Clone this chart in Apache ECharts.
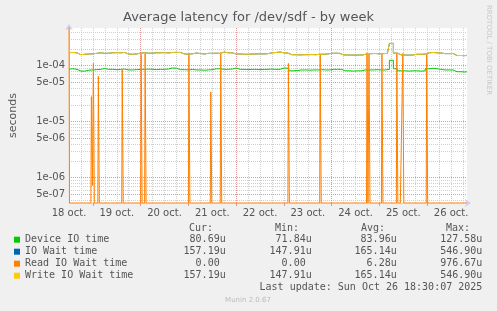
<!DOCTYPE html>
<html><head><meta charset="utf-8">
<script src="https://cdn.jsdelivr.net/npm/echarts@6/dist/echarts.min.js"></script>
<style>html,body{margin:0;padding:0;background:#f0f0f0}#c{width:497px;height:311px}</style>
</head><body><div id="c"></div>
<script>
// ---- data ----
// x = hours since 18 oct 12:00 (left edge of the plot); samples every 2 h
const STEP_H = 2;
const dayLabels = ['18 oct.', '19 oct.', '20 oct.', '21 oct.', '22 oct.', '23 oct.', '24 oct.', '25 oct.', '26 oct.'];
// Device IO time, microseconds
const deviceUs = [87,88,86,80,80,83,84,85,86,89,86,86,85,86,87,84,84,85,86,86,87,86,85,86,86,87,91,90,85,85,84,86,84,84,83,84,85,88,88,86,86,87,91,86,86,85,86,86,85,86,86,87,86,86,91,90,81,82,84,84,83,84,84,85,84,84,86,86,86,81,81,80,81,81,84,84,84,85,84,84,86,125,88,81,81,80,81,81,80,81,88,90,88,86,84,84,84,78,78,77,78];
// Write IO Wait time, microseconds
const writeUs = [171,172,170,157,160,162,163,166,170,166,167,170,171,170,172,161,160,162,168,170,167,168,170,170,171,169,172,173,172,162,161,163,168,165,162,166,166,167,166,175,170,170,162,162,160,160,161,162,163,162,164,170,172,175,170,168,157,157,156,157,157,158,157,160,160,162,166,167,166,156,155,155,154,155,156,164,164,165,163,164,166,250,168,155,155,154,156,160,160,161,170,172,170,168,164,164,165,152,152,151,153];
// IO Wait time (identical to write wait in the picture, fully hidden under it)
const ioWaitUs = [171,172,170,157,160,162,163,166,170,166,167,170,171,170,172,161,160,162,168,170,167,168,170,170,171,169,172,173,172,162,161,163,168,165,162,166,166,167,166,175,170,170,162,162,160,160,161,162,163,162,164,170,172,175,170,168,157,157,156,157,157,158,157,160,160,162,166,167,166,156,155,155,154,155,156,164,164,165,163,164,166,250,168,155,155,154,156,160,160,161,170,172,170,168,164,164,165,152,152,151,153];
// Read IO Wait time: [hour, microseconds] samples (zero elsewhere)
const readUs = [[0,976.67],[0.5,0],[11,0],[11.5,28],[12,0.72],[12.5,110],[13,0],[14.5,0],[15,65],[15.5,0],[26.5,0],[27,86],[27.5,0],[36,0],[36.5,160],[37,0],[38,0],[38.5,165],[39,0],[60,0],[60.5,166],[61,0],[71,0],[71.5,34],[72,0],[76,0],[76.5,170],[77,0],[110,0],[110.5,110],[111,0],[126,0],[126.5,155],[127,0],[149.5,0],[150,170],[150.5,0],[151,168],[151.5,0],[157,0],[157.5,160],[158,0],[164.5,0],[165,166],[165.5,0],[167.5,0],[168,166],[168.5,0],[179.5,0],[180,160],[180.5,0],[200,0]];
const seriesNames = ['Device IO time', 'IO Wait time', 'Read IO Wait time', 'Write IO Wait time'];
const seriesColors = ['#00cc00', '#0066b3', '#ff8000', '#ffcc00'];
const statHeads = ['Cur:', 'Min:', 'Avg:', 'Max:'];
const statCur = ['80.69u', '157.19u', '0.00 ', '157.19u'];
const statMin = ['71.84u', '147.91u', '0.00 ', '147.91u'];
const statAvg = ['83.96u', '165.14u', '6.28u', '165.14u'];
const statMax = ['127.58u', '546.90u', '976.67u', '546.90u'];
const yTickMantissas = [1, 5];       // labelled grid lines
const yMinorMantissas = [2, 3, 4, 6, 7, 8, 9];

// ---- layout ----
const YMIN = 3.53e-7, YMAX = 4.71e-4;
const X_MAX = 200;
const RED = 'rgba(225,140,140,0.9)';
const GRAY = '#cfcfcf';
const AXIS = '#c8d0f8';
const TXT = '#555';
const FONT = 'DejaVu Sans';
const MONO = 'DejaVu Sans Mono';

const toSec = us => Math.max(us * 1e-6, YMIN);
const isPow10 = v => Math.abs(Math.log10(v) - Math.round(Math.log10(v))) < 1e-6;
function fmtE(v) {
  const e = Math.floor(Math.log10(v) + 1e-9);
  const m = Math.round(v / Math.pow(10, e));
  const es = (e < 0 ? '-' : '+') + String(Math.abs(e)).padStart(2, '0');
  return m + 'e' + es;
}

const grid = { left: 67, top: 28, width: 400, height: 175, show: true, backgroundColor: '#fff', borderWidth: 0 };

const yAxes = [];
yTickMantissas.forEach((m, i) => {
  const s = m === 1 ? 1 : 10 / m;
  yAxes.push({
    type: 'log', logBase: 10, min: YMIN * s, max: YMAX * s, position: 'left', z: 1,
    axisLine: i === 0 ? { show: true, onZero: false, lineStyle: { color: AXIS, width: 1 }, symbol: ['none', 'arrow'], symbolSize: [6, 6], symbolOffset: [0, 4] } : { show: false },
    axisTick: { show: false },
    axisLabel: { show: true, color: TXT, fontFamily: FONT, fontSize: 10, margin: 4, showMinLabel: false, showMaxLabel: false,
      formatter: v => isPow10(v) ? fmtE(v / s) : '' },
    splitLine: { show: true, showMinLine: false, showMaxLine: false, lineStyle: { color: RED, width: 1, type: [1, 1] } },
    name: i === 0 ? 'seconds' : '', nameLocation: 'middle', nameRotate: 90, nameGap: 50,
    nameTextStyle: { color: TXT, fontFamily: FONT, fontSize: 11 }
  });
});
yMinorMantissas.forEach(m => {
  const s = 10 / m;
  yAxes.push({
    type: 'log', logBase: 10, min: YMIN * s, max: YMAX * s, position: 'left', z: 0,
    axisLine: { show: false }, axisTick: { show: false }, axisLabel: { show: false },
    splitLine: { show: true, showMinLine: false, showMaxLine: false, lineStyle: { color: GRAY, width: 1, type: [1, 1] } }
  });
});

const xAxes = [
  {
    type: 'value', min: 0, max: X_MAX, interval: 12, position: 'bottom', z: 1,
    axisLine: { show: true, onZero: false, lineStyle: { color: AXIS, width: 1 }, symbol: ['none', 'arrow'], symbolSize: [6, 6], symbolOffset: [0, 4] },
    axisTick: { show: true, length: 3, lineStyle: { color: RED } , customValues: dayLabels.map((d, i) => 12 + 24 * i).filter(v => v < X_MAX)},
    axisLabel: { color: TXT, fontFamily: FONT, fontSize: 10, margin: 5, showMinLabel: true, showMaxLabel: false, hideOverlap: false,
      formatter: v => (v % 24 === 0 && dayLabels[v / 24]) ? dayLabels[v / 24] : '' },
    splitLine: { show: true, showMinLine: true, showMaxLine: false, lineStyle: { color: ['rgba(0,0,0,0)', RED], width: 1, type: [1, 1] } }
  },
  {
    type: 'value', min: 0, max: X_MAX, interval: 6, position: 'bottom', z: 0,
    axisLine: { show: false }, axisTick: { show: false }, axisLabel: { show: false },
    splitLine: { show: true, showMinLine: false, showMaxLine: false, lineStyle: { color: GRAY, width: 1, type: [1, 1] } }
  }
];

function lineSeries(idx, data) {
  return {
    name: seriesNames[idx], type: 'line', xAxisIndex: 0, yAxisIndex: 0, data,
    step: 'middle', symbol: 'none', showSymbol: false, clip: true, z: 2 + idx,
    lineStyle: { color: seriesColors[idx], width: 1 }, itemStyle: { color: seriesColors[idx] },
    emphasis: { disabled: true }
  };
}
const series = [
  lineSeries(0, deviceUs.map((v, i) => [i * STEP_H, toSec(v)])),
  lineSeries(1, ioWaitUs.map((v, i) => [i * STEP_H, toSec(v)])),
  lineSeries(2, readUs.map(p => [p[0], toSec(p[1])])),
  lineSeries(3, writeUs.map((v, i) => [i * STEP_H, toSec(v)]))
];

// ---- legend table texts ----
const graphic = [];
const colRight = [225.7, 311.7, 396.7, 482.3];
const headRight = [213, 299, 385, 470];
statHeads.forEach((h, j) => graphic.push({ type: 'text', x: headRight[j], y: 228, style: { text: h, fill: TXT, font: '10px "' + MONO + '"', textAlign: 'right', textVerticalAlign: 'middle' } }));
[statCur, statMin, statAvg, statMax].forEach((col, j) => col.forEach((t, i) => graphic.push({
  type: 'text', x: colRight[j], y: 239.7 + 12 * i, style: { text: t, fill: TXT, font: '10px "' + MONO + '"', textAlign: 'right', textVerticalAlign: 'middle' }
})));
graphic.push({ type: 'text', x: 482.3, y: 287.3, style: { text: 'Last update: Sun Oct 26 18:30:07 2025', fill: TXT, font: '10px "' + MONO + '"', textAlign: 'right', textVerticalAlign: 'middle' } });
graphic.push({ type: 'text', x: 248, y: 300, style: { text: 'Munin 2.0.67', fill: '#bbb', font: '7px "' + FONT + '"', textAlign: 'center', textVerticalAlign: 'middle' } });
graphic.push({ type: 'text', x: 489, y: 5, rotation: -Math.PI / 2, style: { text: 'RRDTOOL / TOBI OETIKER', fill: '#c8c8c8', font: '7px "' + FONT + '"', textAlign: 'left', textVerticalAlign: 'middle' } });

const chart = echarts.init(document.getElementById('c'), null, { renderer: 'canvas' });
chart.setOption({
  animation: false,
  backgroundColor: '#f0f0f0',
  title: { text: 'Average latency for /dev/sdf - by week', left: 'center', top: 11, padding: 0, textStyle: { color: TXT, fontFamily: FONT, fontSize: 13, fontWeight: 'normal' } },
  legend: { show: true, orient: 'vertical', left: 14, top: 233.7, padding: 0, itemWidth: 6, itemHeight: 6, itemGap: 0, icon: 'rect', selectedMode: false,
    data: seriesNames, textStyle: { color: TXT, fontFamily: MONO, fontSize: 10, lineHeight: 12, padding: 0 } },
  grid,
  xAxis: xAxes,
  yAxis: yAxes,
  series,
  graphic
});
</script></body></html>
